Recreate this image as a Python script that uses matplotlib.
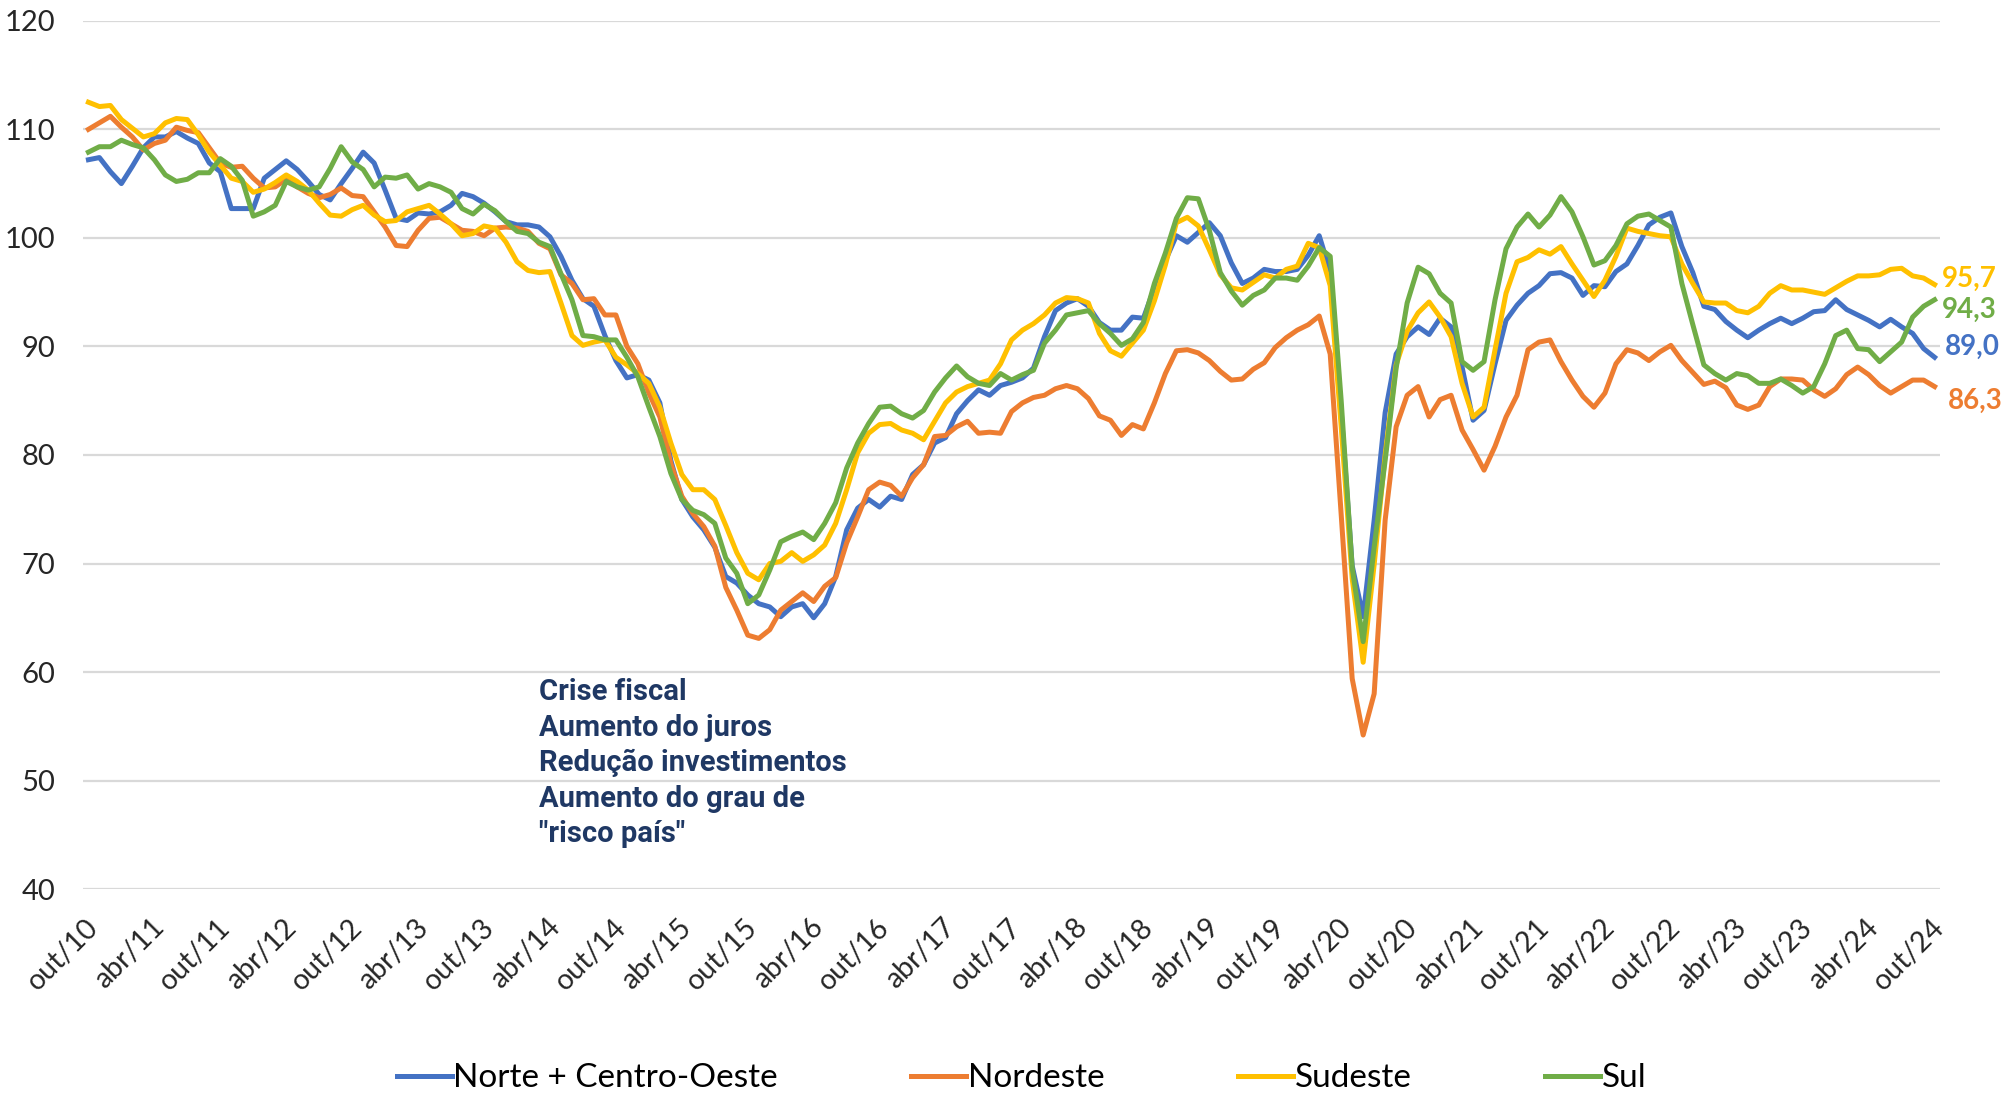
import numpy as np
import matplotlib
matplotlib.use("Agg")
import matplotlib.pyplot as plt
from matplotlib.transforms import ScaledTranslation

plt.rcParams['font.family'] = ['Lato', 'DejaVu Sans']

# monthly index, out/10 .. out/24
tick_labels = ['out/10', 'abr/11', 'out/11', 'abr/12', 'out/12', 'abr/13', 'out/13',
               'abr/14', 'out/14', 'abr/15', 'out/15', 'abr/16', 'out/16', 'abr/17',
               'out/17', 'abr/18', 'out/18', 'abr/19', 'out/19', 'abr/20', 'out/20',
               'abr/21', 'out/21', 'abr/22', 'out/22', 'abr/23', 'out/23', 'abr/24',
               'out/24']

norte_co = [
    107.2, 107.4, 106.1, 105.0, 106.6, 108.3, 109.3, 109.3, 109.8, 109.2, 108.7, 106.9,
    106.1, 102.7, 102.7, 102.7, 105.5, 106.3, 107.1, 106.3, 105.2, 104.0, 103.5, 105.0,
    106.4, 107.9, 106.9, 104.4, 101.8, 101.6, 102.3, 102.2, 102.4, 103.0, 104.1, 103.8,
    103.2, 102.4, 101.5, 101.2, 101.2, 101.0, 100.1, 98.3, 96.1, 94.4, 93.7, 91.0,
    88.7, 87.1, 87.4, 86.9, 84.8, 79.5, 75.9, 74.3, 73.1, 71.5, 68.8, 68.2,
    67.1, 66.3, 66.0, 65.1, 66.0, 66.3, 65.0, 66.3, 68.8, 73.1, 75.1, 75.9,
    75.2, 76.2, 75.9, 78.2, 79.1, 81.1, 81.6, 83.8, 85.0, 86.0, 85.5, 86.4,
    86.7, 87.1, 88.0, 90.9, 93.3, 94.0, 94.4, 93.7, 92.2, 91.5, 91.5, 92.7,
    92.6, 95.4, 97.9, 100.2, 99.6, 100.5, 101.4, 100.2, 97.7, 95.8, 96.3, 97.1,
    96.9, 96.9, 97.1, 98.4, 100.2, 96.9, 84.0, 69.8, 65.1, 74.0, 83.9, 89.3,
    90.9, 91.8, 91.1, 92.6, 91.8, 88.1, 83.2, 84.1, 88.4, 92.4, 93.8, 94.9,
    95.6, 96.7, 96.8, 96.3, 94.7, 95.6, 95.5, 96.9, 97.6, 99.3, 101.2, 101.9,
    102.3, 99.2, 96.8, 93.7, 93.4, 92.3, 91.5, 90.8, 91.5, 92.1, 92.6, 92.1,
    92.6, 93.2, 93.3, 94.3, 93.4, 92.9, 92.4, 91.8, 92.5, 91.8, 91.2, 89.8,
    89.0]

nordeste = [
    110.0, 110.6, 111.2, 110.2, 109.3, 108.1, 108.7, 109.0, 110.2, 109.9, 109.7, 108.3,
    106.9, 106.5, 106.6, 105.5, 104.6, 104.7, 105.4, 104.7, 104.1, 103.7, 104.0, 104.6,
    103.9, 103.8, 102.4, 101.0, 99.3, 99.2, 100.7, 101.8, 101.9, 101.3, 100.7, 100.6,
    100.2, 100.9, 101.0, 100.9, 100.6, 99.5, 99.0, 96.6, 95.8, 94.3, 94.4, 92.9,
    92.9, 90.0, 88.4, 85.7, 83.5, 79.2, 76.2, 74.6, 73.4, 71.6, 67.8, 65.7,
    63.4, 63.1, 63.9, 65.7, 66.5, 67.3, 66.5, 67.9, 68.7, 71.9, 74.3, 76.8,
    77.5, 77.2, 76.2, 77.9, 79.1, 81.7, 81.8, 82.6, 83.1, 82.0, 82.1, 82.0,
    84.0, 84.8, 85.3, 85.5, 86.1, 86.4, 86.1, 85.2, 83.6, 83.2, 81.8, 82.8,
    82.4, 84.8, 87.5, 89.6, 89.7, 89.4, 88.7, 87.7, 86.9, 87.0, 87.9, 88.5,
    89.9, 90.8, 91.5, 92.0, 92.8, 89.3, 74.5, 59.4, 54.2, 58.0, 74.0, 82.6,
    85.5, 86.3, 83.5, 85.1, 85.5, 82.3, 80.5, 78.6, 80.8, 83.5, 85.5, 89.7,
    90.4, 90.6, 88.6, 86.9, 85.4, 84.4, 85.7, 88.4, 89.7, 89.4, 88.7, 89.5,
    90.1, 88.7, 87.6, 86.5, 86.8, 86.2, 84.6, 84.2, 84.6, 86.3, 87.0, 87.0,
    86.9, 86.0, 85.4, 86.1, 87.4, 88.1, 87.4, 86.4, 85.7, 86.3, 86.9, 86.9,
    86.3]

sudeste = [
    112.5, 112.1, 112.2, 110.9, 110.1, 109.3, 109.6, 110.6, 111.0, 110.9, 109.5, 107.9,
    106.7, 105.5, 105.2, 104.2, 104.5, 105.1, 105.8, 105.2, 104.4, 103.2, 102.1, 102.0,
    102.6, 103.0, 102.1, 101.5, 101.6, 102.4, 102.7, 103.0, 102.2, 101.3, 100.2, 100.4,
    101.1, 100.9, 99.6, 97.8, 97.0, 96.8, 96.9, 94.0, 91.0, 90.1, 90.4, 90.6,
    89.0, 88.3, 87.5, 86.6, 84.4, 81.1, 78.2, 76.8, 76.8, 75.9, 73.5, 71.0,
    69.1, 68.5, 70.0, 70.2, 71.0, 70.2, 70.8, 71.7, 73.7, 76.8, 80.2, 82.0,
    82.8, 82.9, 82.3, 82.0, 81.4, 83.1, 84.8, 85.8, 86.3, 86.6, 86.9, 88.4,
    90.6, 91.5, 92.1, 92.9, 94.0, 94.5, 94.4, 94.0, 91.2, 89.6, 89.1, 90.3,
    91.5, 94.2, 97.5, 101.4, 101.9, 101.1, 98.9, 96.6, 95.4, 95.2, 95.9, 96.6,
    96.3, 97.1, 97.4, 99.5, 99.1, 95.6, 82.6, 68.6, 60.9, 69.9, 80.0, 88.3,
    91.4, 93.1, 94.1, 92.7, 90.9, 86.6, 83.5, 84.4, 89.7, 94.9, 97.8, 98.2,
    98.9, 98.5, 99.2, 97.6, 96.1, 94.6, 96.1, 98.3, 100.9, 100.6, 100.4, 100.2,
    100.1, 97.6, 95.8, 94.1, 94.0, 94.0, 93.3, 93.1, 93.7, 94.9, 95.6, 95.2,
    95.2, 95.0, 94.8, 95.4, 96.0, 96.5, 96.5, 96.6, 97.1, 97.2, 96.5, 96.3,
    95.7]

sul = [
    107.9, 108.4, 108.4, 109.0, 108.6, 108.3, 107.2, 105.8, 105.2, 105.4, 106.0, 106.0,
    107.3, 106.6, 105.3, 102.0, 102.4, 103.0, 105.2, 104.7, 104.4, 104.7, 106.4, 108.4,
    107.0, 106.3, 104.7, 105.6, 105.5, 105.8, 104.5, 105.0, 104.7, 104.2, 102.7, 102.2,
    103.1, 102.5, 101.5, 100.6, 100.4, 99.6, 99.2, 96.7, 94.3, 91.0, 90.9, 90.6,
    90.6, 89.0, 87.2, 84.4, 81.7, 78.3, 75.9, 74.9, 74.5, 73.7, 70.5, 69.1,
    66.3, 67.1, 69.4, 72.0, 72.5, 72.9, 72.2, 73.7, 75.6, 78.8, 81.1, 82.9,
    84.4, 84.5, 83.8, 83.4, 84.1, 85.8, 87.1, 88.2, 87.2, 86.6, 86.4, 87.5,
    86.9, 87.4, 87.8, 90.3, 91.5, 92.9, 93.1, 93.3, 92.1, 91.2, 90.1, 90.7,
    92.2, 95.8, 98.6, 101.8, 103.7, 103.6, 100.7, 96.8, 95.1, 93.8, 94.7, 95.2,
    96.3, 96.3, 96.1, 97.4, 99.1, 98.3, 85.0, 69.6, 62.8, 71.5, 79.5, 88.0,
    94.0, 97.3, 96.7, 94.9, 94.0, 88.6, 87.8, 88.6, 94.3, 99.0, 101.0, 102.2,
    101.0, 102.1, 103.8, 102.4, 100.1, 97.5, 97.9, 99.3, 101.3, 102.0, 102.2, 101.6,
    101.0, 95.8, 92.0, 88.3, 87.5, 86.9, 87.5, 87.3, 86.6, 86.6, 87.0, 86.4,
    85.7, 86.3, 88.4, 91.0, 91.5, 89.8, 89.7, 88.6, 89.5, 90.4, 92.7, 93.7,
    94.3]

series = [('Norte + Centro-Oeste', norte_co, '#4472C4'),
          ('Nordeste', nordeste, '#ED7D31'),
          ('Sudeste', sudeste, '#FFC000'),
          ('Sul', sul, '#70AD47')]

fig = plt.figure(figsize=(20.03, 10.95), dpi=100)
ax = fig.add_axes([0.0414, 0.188, 0.9272, 0.793])

x = np.arange(len(norte_co))
for name, vals, col in series:
    ax.plot(x, vals, color=col, lw=3.6, label=name, solid_joinstyle='round')

# end-of-series value labels
end_y = {'Sudeste': 96.2, 'Sul': 93.4, 'Norte + Centro-Oeste': 90.0, 'Nordeste': 85.0}
end_dx = {'Sudeste': 0.2, 'Sul': 0.2, 'Norte + Centro-Oeste': 0.4, 'Nordeste': 0.7}
for name, vals, col in series:
    ax.text(x[-1] + 0.5 + end_dx[name], end_y[name], f'{vals[-1]:.1f}'.replace('.', ','),
            color=col, fontsize=20, fontweight='bold', ha='left', va='center',
            clip_on=False, family=['Lato', 'DejaVu Sans'])

ax.text(41.0, 59.45, 'Crise fiscal\nAumento do juros\nRedução investimentos\n'
        'Aumento do grau de\n"risco país"', color='#1F3864', fontsize=21,
        fontweight='bold', ha='left', va='top', linespacing=1.34,
        family=['Roboto', 'DejaVu Sans'])

ax.set_xlim(-0.5, len(norte_co) - 0.5)
ax.set_ylim(40, 120)
ax.set_yticks(np.arange(40, 121, 10))
ax.set_xticks(np.arange(0, len(norte_co), 6))
ax.set_xticklabels(tick_labels, rotation=45, ha='right', va='top')
ax.yaxis.grid(True, color='#D9D9D9', lw=1.6)
ax.set_axisbelow(True)
for s in ax.spines.values():
    s.set_visible(False)
ax.tick_params(axis='y', length=0, pad=20, labelsize=21, labelcolor='#262626')
ax.tick_params(axis='x', length=0, pad=18, labelsize=20.5, labelcolor='#262626')
shift = ScaledTranslation(0.15, 0, fig.dpi_scale_trans)
for lbl in ax.get_xticklabels():
    lbl.set_transform(lbl.get_transform() + shift)

fig.legend(loc='lower center', bbox_to_anchor=(0.51, -0.026), ncol=4, frameon=False,
           fontsize=24, handlelength=1.65, handletextpad=0.05, columnspacing=4.0)

fig.savefig('out.png', dpi=100)
